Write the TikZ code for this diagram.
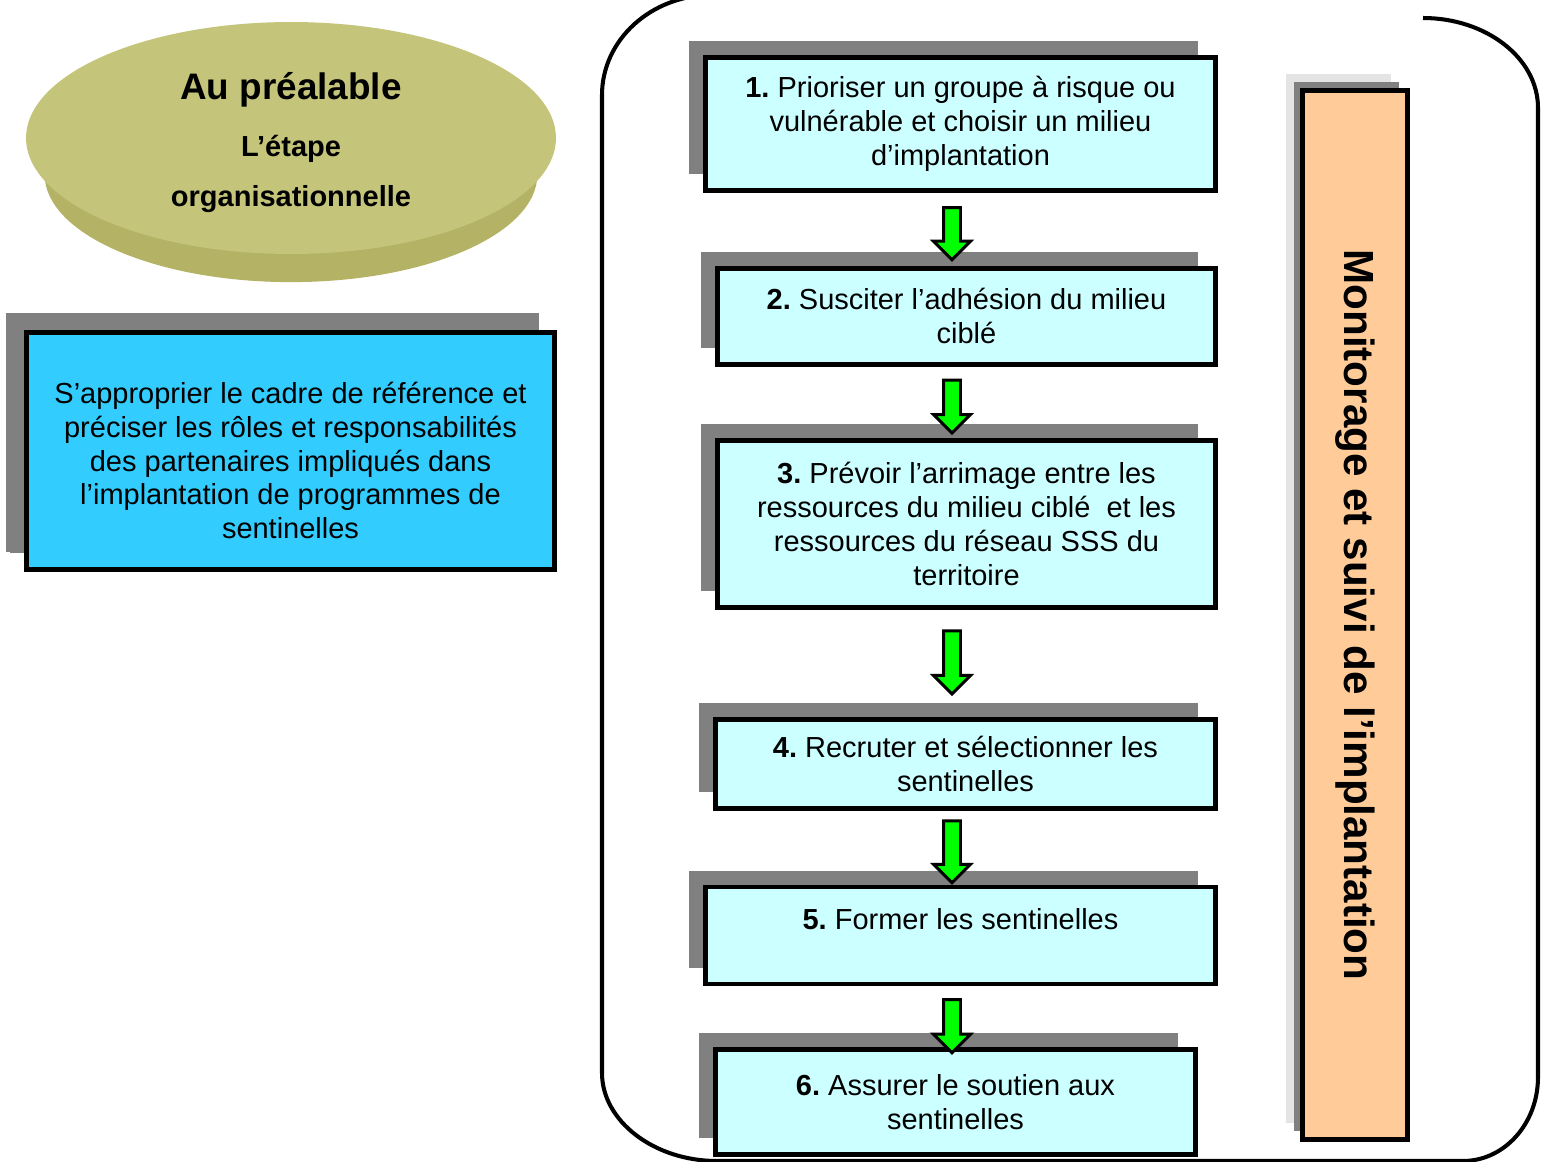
\documentclass[tikz,border=0pt]{standalone}
\usepackage{fontspec}
\setmainfont{Liberation Sans}
\usepackage{graphicx}
\usetikzlibrary{positioning,shapes,shadows,arrows}
\frenchspacing
\definecolor{stepcyan}{RGB}{204,255,255}
\definecolor{cadreblue}{RGB}{51,204,255}
\definecolor{suivipeach}{RGB}{255,204,153}
\definecolor{diskolive}{RGB}{196,196,122}
\definecolor{diskside}{RGB}{180,178,100}
\definecolor{shadowgray}{RGB}{128,128,128}
\definecolor{palegray}{RGB}{228,228,228}
\definecolor{flowgreen}{RGB}{0,255,0}
\tikzstyle{stepbox}=[rectangle, draw=black, line width=2.8pt, fill=stepcyan, align=center, font=\fontsize{16.5}{19.3}\selectfont, drop shadow={shadow xshift=-0.34cm, shadow yshift=0.33cm, fill=shadowgray, opacity=1}]

\begin{document}
\begin{tikzpicture}[
        x=0.02cm, y=-0.02cm,
        flowarrow/.style={single arrow, rotate=-90, draw=black, line width=1.7pt, fill=flowgreen, inner xsep=0pt, inner ysep=0.14cm, minimum width=0.68cm, single arrow head extend=0.2cm, single arrow tip angle=90},
        frameline/.style={draw=black, line width=2.3pt},
      ]
      \useasboundingbox (0,0) rectangle (1549,1162);
      \clip (0,0) rectangle (1549,1162);
      % au prealable
      \node (prealable) [ellipse, fill=diskolive, minimum width=10.6cm, minimum height=4.64cm, align=center,
            font=\bfseries\fontsize{16.5}{29}\selectfont,
            drop shadow={shadow xshift=0cm, shadow yshift=-0.78cm, shadow scale=0.93, fill=diskside, opacity=1}] at (291,138)
            {{\fontsize{21}{25}\selectfont\rule{0pt}{21pt}Au préalable}\\[3pt] L’étape\\ organisationnelle};
      \node (cadre) [stepbox, fill=cadreblue, minimum width=10.56cm, minimum height=4.74cm,
            drop shadow={shadow xshift=-0.36cm, shadow yshift=0.36cm, shadow scale=1.01, fill=shadowgray, opacity=1}] at (290.5,451)
            {\rule{0pt}{23pt}S’approprier le cadre de référence et\\ préciser les rôles et responsabilités\\ des partenaires impliqués dans\\ l’implantation de programmes de\\ sentinelles};
      % les six etapes
      \node (s1) [stepbox, minimum width=10.2cm, minimum height=2.66cm] at (960.5,124)
            {\textbf{1.} Prioriser un groupe à risque ou\\ vulnérable et choisir un milieu\\ d’implantation};
      \node (s2) [stepbox, minimum width=9.96cm, minimum height=1.92cm, below=1.46cm of s1, xshift=0.12cm]
            {\textbf{2.} Susciter l’adhésion du milieu\\ ciblé};
      \node (s3) [stepbox, minimum width=9.96cm, minimum height=3.34cm, below=1.42cm of s2]
            {\textbf{3.} Prévoir l’arrimage entre les\\ ressources du milieu ciblé\ \ et les\\ ressources du réseau SSS du\\ territoire};
      \node (s4) [stepbox, minimum width=10cm, minimum height=1.78cm, below=2.14cm of s3, xshift=-0.02cm]
            {\textbf{4.} Recruter et sélectionner les\\ sentinelles};
      \node (s5) [stepbox, minimum width=10.2cm, minimum height=1.94cm, below=1.48cm of s4, xshift=-0.1cm]
            {\textbf{5.} Former les sentinelles\\[-6pt] \strut};
      \node (s6) [stepbox, minimum width=9.6cm, minimum height=2.1cm, below=1.22cm of s5, xshift=-0.1cm]
            {\textbf{6.} Assurer le soutien aux\\ sentinelles};
      \path (s1.south) -- (s2.north) node[midway, xshift=-0.23cm, flowarrow, minimum height=1.04cm] (a1) {};
      \path (s2.south) -- (s3.north) node[midway, xshift=-0.29cm, flowarrow, minimum height=1.06cm] (a2) {};
      \path (s3.south) -- (s4.north) node[midway, xshift=-0.28cm, yshift=0.1cm, flowarrow, minimum height=1.26cm] (a3) {};
      \path (s4.south) -- (s5.north) node[midway, xshift=-0.22cm, flowarrow, minimum height=1.24cm] (a4) {};
      \path (s5.south) -- (s6.north) node[midway, xshift=-0.12cm, yshift=-0.1cm, flowarrow, minimum height=1.06cm] (a5) {};
      % monitorage
      \node (suivi) [rectangle, draw=black, line width=2.8pt, fill=suivipeach, minimum width=2.1cm, minimum height=20.98cm,
            drop shadow={shadow xshift=-0.34cm, shadow yshift=0.33cm, fill=palegray, opacity=1},
            drop shadow={shadow xshift=-0.17cm, shadow yshift=0.17cm, fill=shadowgray, opacity=1}] at (1355,615)
            {\rotatebox{-90}{\bfseries\fontsize{24}{28}\selectfont Monitorage et suivi de l’implantation}};
      % cadre arrondi
      \draw [frameline] (1423,18) .. controls (1486,18) and (1538,58) .. (1538,108)
            -- (1538,1077) .. controls (1538,1124) and (1504,1161) .. (1463,1161)
            -- (717,1161) .. controls (654,1161) and (602,1121) .. (602,1073)
            -- (602,95) .. controls (602,40) and (651,-5) .. (712,-5);
    \end{tikzpicture}
\end{document}
